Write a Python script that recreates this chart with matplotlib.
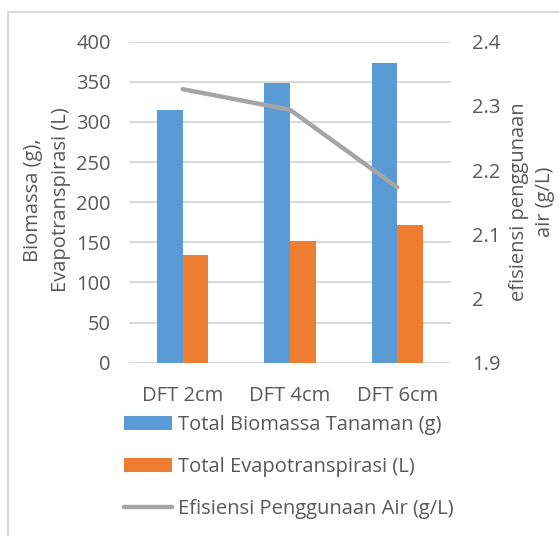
import numpy as np
import matplotlib.pyplot as plt
from matplotlib.patches import Rectangle

# Data
categories = ['DFT 2cm', 'DFT 4cm', 'DFT 6cm']
biomassa = [315, 349, 374]
evapotranspirasi = [134, 152, 171]
efisiensi = [2.326, 2.294, 2.173]

blue = '#5B9BD5'
orange = '#ED7D31'
gray = '#A5A5A5'
txt = '#595959'
grid = '#D9D9D9'

plt.rcParams['font.family'] = ['Open Sans', 'DejaVu Sans']
fs = 14.5

fig = plt.figure(figsize=(5.59, 5.36), dpi=100)
ax = fig.add_axes([129 / 559, 1 - 362.7 / 536, (451 - 129) / 559, (362.7 - 41.7) / 536])
ax2 = ax.twinx()

x = np.arange(len(categories))
w = 0.238
b1 = ax.bar(x - w / 2, biomassa, w, color=blue, label='Total Biomassa Tanaman (g)', zorder=2)
b2 = ax.bar(x + w / 2, evapotranspirasi, w, color=orange, label='Total Evapotranspirasi (L)', zorder=2)
l1, = ax2.plot(x, efisiensi, color=gray, lw=3.2, solid_capstyle='round',
               label='Efisiensi Penggunaan Air (g/L)')

ax.set_xlim(-0.5, 2.5)
ax.set_ylim(0, 400)
ax.set_yticks(np.arange(0, 401, 50))
ax2.set_ylim(1.9, 2.4)
ax2.set_yticks([1.9, 2.0, 2.1, 2.2, 2.3, 2.4])
ax2.set_yticklabels(['1.9', '2', '2.1', '2.2', '2.3', '2.4'])
ax.set_xticks(x)
ax.set_xticklabels(categories)

ax.grid(axis='y', color=grid, lw=1.4, zorder=0)
ax.set_axisbelow(True)
for a in (ax, ax2):
    for s in a.spines.values():
        s.set_visible(False)
ax.tick_params(axis='y', length=0, pad=13, labelsize=fs, labelcolor=txt)
ax.tick_params(axis='x', length=0, pad=17, labelsize=fs, labelcolor=txt)
ax2.tick_params(axis='y', length=0, pad=15, labelsize=fs, labelcolor=txt)

fig.text(47 / 559, 1 - 200 / 536, 'Biomassa (g),\nEvapotranspirasi (L)', rotation=90,
         ha='center', va='center', multialignment='center', fontsize=fs, color=txt,
         linespacing=1.55)
fig.text(532 / 559, 1 - 202 / 536, 'efisiensi penggunaan\nair (g/L)', rotation=90,
         ha='center', va='center', multialignment='center', fontsize=fs, color=txt,
         linespacing=1.45)

fig.legend(handles=[b1, b2, l1], loc='upper left', bbox_to_anchor=(124 / 559, 1 - 415 / 536),
           frameon=False, fontsize=fs, labelcolor=txt, handlelength=2.4, handleheight=0.65,
           handletextpad=0.3, labelspacing=1.1, borderpad=0, borderaxespad=0)

# chart area border (left and top edges visible)
fig.patches.append(Rectangle((8 / 559, -0.05), 1.2, 1 - 12 / 536 + 0.05, transform=fig.transFigure,
                             fill=False, edgecolor=grid, lw=1.5))

fig.savefig('out.png', dpi=100)
